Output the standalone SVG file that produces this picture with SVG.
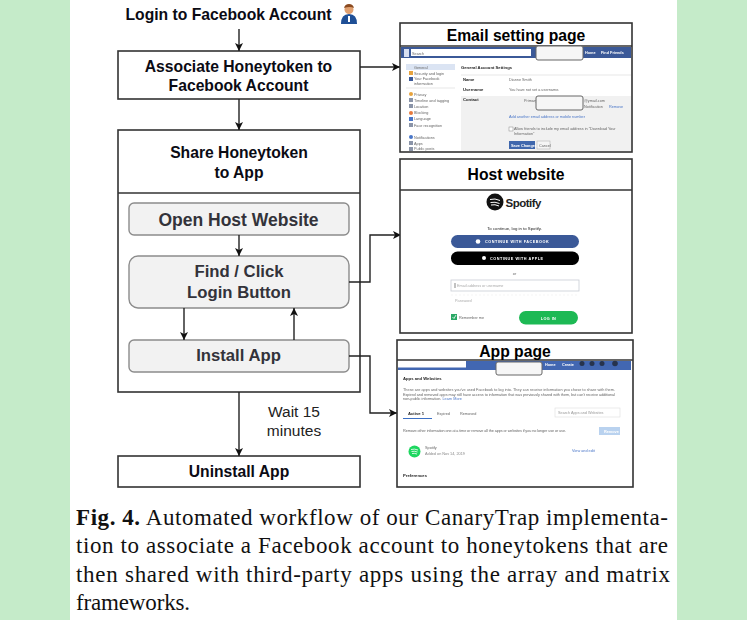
<svg xmlns="http://www.w3.org/2000/svg" width="747" height="620" viewBox="0 0 747 620">
<style>
text{font-family:"Liberation Sans",Arial,sans-serif}
.b{fill:#fff;stroke:#333;stroke-width:1.6}
.r{fill:#f2f2f2;stroke:#8c8c8c;stroke-width:1.4}
.t{font-weight:700;fill:#0b0b14;font-size:15.700px;text-anchor:middle}
.g{font-weight:700;fill:#33333a;font-size:17.500px;text-anchor:middle}
.g2{font-weight:700;fill:#33333a;font-size:16.700px;text-anchor:middle}
.p{font-weight:700;fill:#000;font-size:15.700px;text-anchor:middle}
.w{fill:#222;font-size:15.500px;text-anchor:middle}
.c{font-family:"Liberation Serif","DejaVu Serif",serif;font-size:23px;fill:#111}
.red{fill:#f6f6f6;stroke:#666;stroke-width:1}
.s{font-size:3.800px;fill:#666;filter:url(#soft)}
.sb{font-size:4.200px;fill:#222;font-weight:700;filter:url(#soft)}
.bl{font-size:3.800px;fill:#4a76c8;filter:url(#soft)}
.w4{font-size:3.800px;fill:#fff;font-weight:700;filter:url(#soft)}
.l{fill:none;stroke:#222;stroke-width:1.4;marker-end:url(#a)}
</style>
<defs><marker id="a" markerUnits="userSpaceOnUse" markerWidth="9" markerHeight="9" refX="8" refY="4.500" orient="auto"><path d="M0 0.500L8 4.500L0 8.500L2 4.500Z" fill="#111"/></marker>
<filter id="soft" x="-10%" y="-30%" width="120%" height="160%"><feGaussianBlur stdDeviation="0.250"/></filter></defs>
<rect width="747" height="620" fill="#fff"/>
<rect width="70" height="620" fill="#c5ebc9"/>
<rect x="677" width="70" height="620" fill="#c5ebc9"/>

<g id="login"><text x="228.500" y="20" class="t">Login to Facebook Account</text>
<g id="user-icon"><circle cx="349" cy="9.500" r="4.500" fill="#e0a070"/><path d="M344 8Q345 4 349 4Q353 4 354 8Q350 6 344 8Z" fill="#8a4a20"/><path d="M341 24Q341 14 349 14Q357 14 357 24Z" fill="#1f4f96"/><rect x="348" y="16" width="2" height="6" fill="#fff"/></g></g>
<g id="associate"><rect x="118" y="51" width="242" height="48" class="b"/><text x="238.500" y="72" class="t">Associate Honeytoken to</text><text x="238.500" y="91" class="t">Facebook Account</text></g>
<g id="share"><rect x="118" y="130" width="242" height="262" class="b"/><path d="M118 193H360" stroke="#333" stroke-width="1.400"/><text x="239" y="158" class="t">Share Honeytoken</text><text x="239" y="178" class="t">to App</text></g>
<g id="open"><rect x="129" y="203" width="220" height="32" rx="5" class="r"/><text x="238.500" y="226" class="g">Open Host Website</text></g>
<g id="find"><rect x="129" y="256" width="220" height="52" rx="9" class="r"/><text x="239" y="277" class="g2">Find / Click</text><text x="239" y="298" class="g2">Login Button</text></g>
<g id="install"><rect x="129" y="340" width="220" height="32" rx="5" class="r"/><text x="238.500" y="361" class="g2">Install App</text></g>
<g id="uninstall"><rect x="118" y="456" width="242" height="31" class="b"/><text x="239" y="477" class="t">Uninstall App</text></g>
<text x="294" y="417" class="w">Wait 15</text><text x="294" y="436" class="w">minutes</text>

<g id="connectors">
<path class="l" d="M239 29V51"/><path class="l" d="M239 99V130"/><path class="l" d="M360 67H400"/>
<path class="l" d="M239 235V256"/><path class="l" d="M184 308V340"/><path class="l" d="M294 340V308"/>
<path class="l" d="M349 282H370V235H401"/><path class="l" d="M349 356H370V413H397"/><path class="l" d="M239 392V456"/>
</g>

<g id="email-panel"><rect x="400" y="23" width="232" height="129" class="b"/><path d="M400 46H632" stroke="#333" stroke-width="1.400"/>
<text x="516" y="41" class="p">Email setting page</text>
<rect x="401" y="47" width="230" height="11" fill="#3b5998"/><rect x="404" y="49" width="5" height="8" fill="#d8dff0"/><rect x="411" y="49" width="120" height="7" fill="#fff"/><text x="412" y="54.500" class="s">Search</text>
<text x="585" y="53.500" class="w4">Home</text><text x="601" y="53.500" class="w4">Find Friends</text>
<rect x="406" y="64" width="49" height="6" fill="#dbe4f3"/><text x="414" y="68.500" class="s">General</text>
<rect x="409" y="71" width="4" height="4" fill="#e8a33d"/><text x="414" y="74.500" class="s">Security and login</text>
<rect x="409" y="77" width="4" height="4" fill="#3b5998"/><text x="414" y="80" class="s">Your Facebook</text><text x="414" y="84.500" class="s">information</text>
<path d="M406 88H455" stroke="#ddd" stroke-width=".7"/>
<g fill="#8a94a8"><circle cx="411" cy="94" r="2" fill="#e8a33d"/><rect x="409" y="98" width="4" height="4"/><rect x="409" y="104" width="4" height="4"/><circle cx="411" cy="113" r="2" fill="#e87a3d"/><rect x="409" y="117" width="4" height="4" fill="#4a76c8"/><rect x="409" y="123" width="4" height="4"/><circle cx="411" cy="137" r="2" fill="#4a76c8"/><rect x="409" y="141" width="4" height="4"/><rect x="409" y="147" width="4" height="4"/></g>
<text x="414" y="95.500" class="s">Privacy</text><text x="414" y="101.500" class="s">Timeline and tagging</text><text x="414" y="107.500" class="s">Location</text><text x="414" y="113.500" class="s">Blocking</text><text x="414" y="119.500" class="s">Language</text><text x="414" y="126.500" class="s">Face recognition</text><text x="414" y="138.500" class="s">Notifications</text><text x="414" y="144.500" class="s">Apps</text><text x="414" y="150" class="s">Public posts</text>
<text x="461" y="69" class="sb">General Account Settings</text><path d="M461 75H631" stroke="#ddd" stroke-width=".7"/>
<text x="463" y="81" class="sb">Name</text><text x="509" y="81" class="s">Dianne Smith</text>
<text x="463" y="91" class="sb">Username</text><text x="509" y="91" class="s">You have not set a username.</text>
<rect x="461" y="96" width="170" height="55" fill="#f1f1f1"/>
<text x="463" y="101" class="sb">Contact</text><text x="524" y="102" class="s">Primary:</text><text x="584" y="102" class="s">@ymail.com</text><text x="584" y="107.500" class="s">Notification</text><text x="609" y="107.500" class="bl">Remove</text>
<text x="509" y="118" class="bl">Add another email address or mobile number</text>
<rect x="509" y="127" width="4" height="4" fill="#fff" stroke="#888" stroke-width=".5"/><text x="514" y="130" class="s">Allow friends to include my email address in "Download Your</text><text x="514" y="134.500" class="s">Information"</text>
<rect x="509" y="141" width="26" height="8" fill="#3f67ad"/><text x="511" y="146.500" class="w4">Save Changes</text><rect x="537" y="141" width="13" height="8" fill="#f5f5f5" stroke="#aaa" stroke-width=".5"/><text x="539" y="146.500" class="s">Cancel</text>
<rect x="536" y="46" width="47" height="14" rx="2" class="red"/><rect x="536" y="96" width="47" height="14" rx="2" class="red"/></g>

<g id="host-panel"><rect x="400" y="159" width="232" height="174" class="b"/><path d="M400 190H632" stroke="#333" stroke-width="1.400"/>
<text x="516" y="180" class="p">Host website</text>
<circle cx="495" cy="202" r="8.500" fill="#111"/><path d="M490 199.500Q495 198 500 200.500M490.500 202.500Q495 201.500 499.500 203.500M491 205Q495 204 499 206" fill="none" stroke="#fff" stroke-width="1"/>
<text x="505.500" y="206.500" font-size="11.500" font-weight="700" fill="#222" textLength="36">Spotify</text>
<text x="514.500" y="230" class="s" style="fill:#222;font-size:4.300px" text-anchor="middle">To continue, log in to Spotify.</text>
<rect x="451" y="235" width="128" height="13" rx="6.500" fill="#3b5998"/><circle cx="478" cy="241.500" r="2.300" fill="#fff"/><text x="485" y="243" class="w4" letter-spacing=".5">CONTINUE WITH FACEBOOK</text>
<rect x="451" y="251.500" width="128" height="13.500" rx="6.500" fill="#000"/><circle cx="484" cy="258" r="2" fill="#fff"/><text x="490" y="259.500" class="w4" letter-spacing=".5">CONTINUE WITH APPLE</text>
<text x="514.500" y="275" class="s" text-anchor="middle">or</text>
<rect x="451" y="280" width="128" height="11" fill="#fff" stroke="#c8ccd4" stroke-width=".8"/><path d="M455 283V288" stroke="#333" stroke-width=".6"/><text x="457" y="287" class="s" style="fill:#aaa">Email address or username</text>
<text x="455" y="302" class="s" style="fill:#aaa">Password</text><path d="M451 295H579" stroke="#eee" stroke-width=".6" stroke-dasharray="2 2"/>
<rect x="451" y="314" width="6" height="6" fill="#2aa866"/><path d="M452.500 317L454 318.500L456 315" fill="none" stroke="#fff" stroke-width=".8"/><text x="459" y="319" class="s">Remember me</text>
<rect x="519" y="311" width="59" height="13.500" rx="6.700" fill="#1db954"/><text x="548.500" y="319.500" class="w4" text-anchor="middle" letter-spacing=".4">LOG IN</text></g>

<g id="app-panel"><rect x="397" y="340" width="236" height="147" class="b"/><path d="M397 360H633" stroke="#333" stroke-width="1.400"/>
<text x="515" y="357" class="p">App page</text>
<rect x="398" y="361" width="233" height="9" fill="#4267b2"/><rect x="398" y="361" width="68" height="6.500" fill="#fff"/>
<text x="545" y="365.500" class="w4">Home</text><text x="562" y="365.500" class="w4">Create</text>
<g fill="#26334d"><circle cx="582" cy="363.500" r="2.500"/><circle cx="592" cy="363.500" r="2.500"/><circle cx="602" cy="363.500" r="2.500"/><circle cx="615" cy="363.500" r="2.800"/></g>
<rect x="496" y="362" width="46" height="13" rx="2" class="red"/>
<text x="403" y="380" class="sb">Apps and Websites</text>
<text x="403" y="391" class="s" textLength="212">These are apps and websites you've used Facebook to log into. They can receive information you chose to share with them.</text>
<text x="403" y="395.500" class="s" textLength="212">Expired and removed apps may still have access to information that was previously shared with them, but can't receive additional</text>
<text x="403" y="400" class="s">non-public information. <tspan fill="#4a76c8">Learn More</tspan></text>
<text x="408" y="414.500" class="sb">Active   1</text><text x="437" y="414.500" class="s">Expired</text><text x="460" y="414.500" class="s">Removed</text><path d="M403 418.500H432" stroke="#3b6fc4" stroke-width="1"/>
<rect x="555" y="408" width="65" height="9" fill="#fff" stroke="#ddd" stroke-width=".6"/><text x="558" y="414" class="s" style="fill:#999">Search Apps and Websites</text>
<text x="403" y="432" class="s" textLength="163">Remove other information one at a time or remove all the apps or websites if you no longer use or use.</text>
<rect x="599" y="427" width="21" height="8" fill="#b9d2ef"/><text x="604" y="432.500" class="w4">Remove</text>
<circle cx="414.500" cy="451.500" r="6" fill="#1ed760"/><path d="M411 449.500Q414.500 448.500 418 450M411.500 451.500Q414.500 450.800 417.500 452M412 453.500Q414.500 453 417 454" fill="none" stroke="#fff" stroke-width=".8"/>
<text x="425" y="449" class="s">Spotify</text><text x="425" y="454.500" class="s" style="fill:#888">Added on Nov 14, 2019</text><text x="572" y="452" class="bl">View and edit</text>
<text x="403" y="477" class="sb">Preferences</text></g>

<g id="caption">
<text x="76" y="525" class="c" textLength="592"><tspan font-weight="700">Fig. 4.</tspan> Automated workflow of our CanaryTrap implementa-</text>
<text x="76" y="553" class="c" textLength="592">tion to associate a Facebook account to honeytokens that are</text>
<text x="76" y="582" class="c" textLength="594">then shared with third-party apps using the array and matrix</text>
<text x="76" y="610" class="c" textLength="114">frameworks.</text>
</g>
</svg>
